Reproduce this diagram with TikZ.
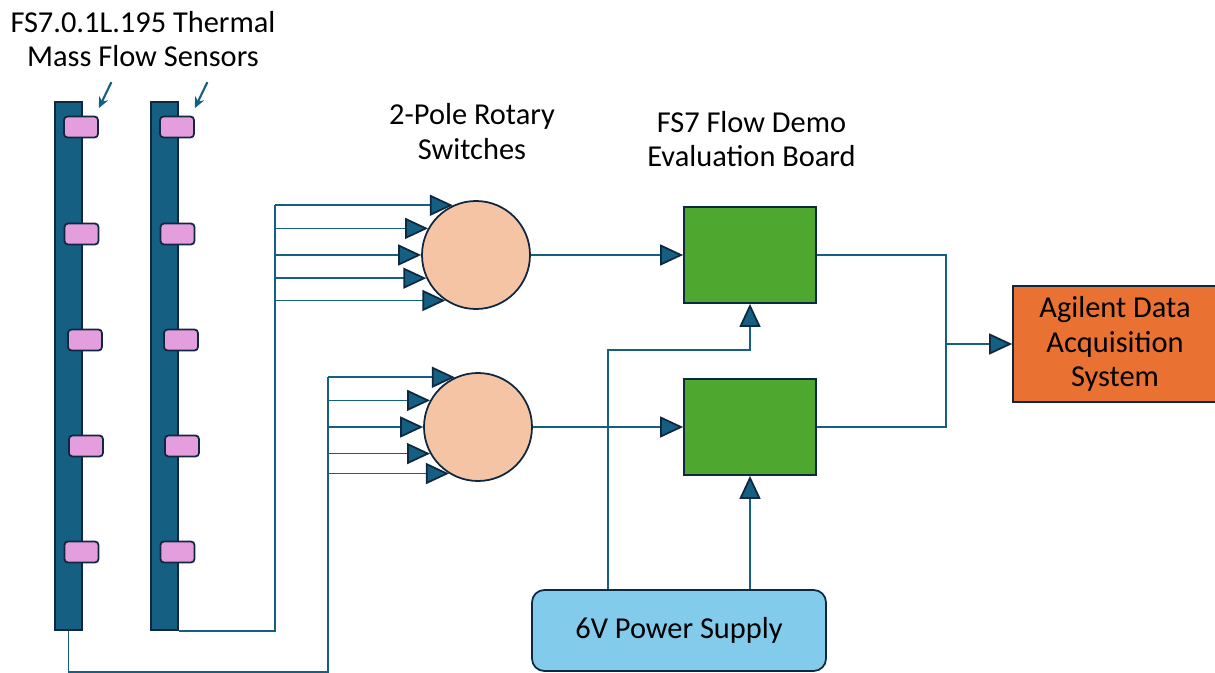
\documentclass[tikz,border=0pt]{standalone}
\usepackage{fontspec}
\setmainfont{Carlito}
\usepackage{tikz}
\usetikzlibrary{arrows.meta,calc}
\definecolor{flowInk}{HTML}{0E2841}
\definecolor{flowTeal}{HTML}{156082}
\definecolor{flowPink}{HTML}{E59EDD}
\definecolor{flowPeach}{HTML}{F4C4A5}
\definecolor{flowGreen}{HTML}{4EA72E}
\definecolor{flowOrange}{HTML}{E97132}
\definecolor{flowSky}{HTML}{83CBEB}

\begin{document}
\begin{tikzpicture}[
  font=\fontsize{17.3}{19.8}\selectfont,
  bar/.style={draw=flowInk, fill=flowTeal, line width=1pt, minimum width=5.4mm, minimum height=105.6mm, inner sep=0pt},
  pad/.style={draw=flowInk, fill=flowPink, line width=1pt, rounded corners=2pt, minimum width=6.8mm, minimum height=4.2mm, inner sep=0pt},
  switch/.style={circle, draw=flowInk, fill=flowPeach, line width=1pt, minimum size=21.6mm, inner sep=0pt},
  board/.style={draw=flowInk, fill=flowGreen, line width=1pt, minimum width=26.4mm, minimum height=19.2mm, inner sep=0pt},
  daq/.style={draw=flowInk, fill=flowOrange, line width=1pt, minimum width=40.8mm, minimum height=23.2mm, align=center, inner sep=0pt},
  supply/.style={draw=flowInk, fill=flowSky, line width=1pt, rounded corners=7pt, minimum width=58.8mm, minimum height=16.2mm, inner sep=0pt},
  wire/.style={draw=flowTeal, line width=1pt},
  sig/.style={wire, -{Triangle[length=4.6mm, width=4.2mm, color=flowInk, fill=flowTeal]}},
  pointer/.style={draw=flowTeal, line width=1.2pt, -{Stealth[length=2.2mm, width=2mm]}},
  label/.style={align=center, inner sep=0pt}
]
  \useasboundingbox (0,0) rectangle (24.3,13.44);

  % sensor bars
  \node[bar] (bar1) at (1.37,6.12) {};
  \node[bar] (bar2) at (3.29,6.12) {};
  \foreach \y/\dx [count=\i] in {10.90/0.25, 8.76/0.26, 6.64/0.33, 4.52/0.35, 2.40/0.26} {
    \node[pad] (pa\i) at (1.37+\dx,\y) {};
    \node[pad] (pb\i) at (3.29+\dx,\y) {};
  }
  \node[label] (title) at (2.86,12.66) {FS7.0.1L.195 Thermal\\Mass Flow Sensors};
  \draw[pointer] ($(pa1.north east)+(0.25,0.67)$) -- ($(pa1.north east)+(0,0.15)$);
  \draw[pointer] ($(pb1.north east)+(0.25,0.67)$) -- ($(pb1.north east)+(0,0.15)$);

  % switches, boards, outputs
  \node[switch] (sw1) at (9.52,8.34) {};
  \node[switch] (sw2) at (9.56,4.90) {};
  \node[label] (swlabel) at (9.44,10.81) {2-Pole Rotary\\Switches};
  \node[board] (box1) at (15.0,8.34) {};
  \node[board] (box2) at (15.0,4.90) {};
  \node[label] (boxlabel) at (15.03,10.66) {FS7 Flow Demo\\Evaluation Board};
  \node[daq] (daq) at (22.30,6.56) {Agilent Data\\Acquisition\\System};
  \node[supply] (ps) at (13.58,0.83) {6V Power Supply};

  \coordinate (bus1) at (5.50,0.84);
  \coordinate (bus2) at (6.56,0.0);
  \coordinate (join) at (18.92,6.56);
  \coordinate (tap) at (12.16,6.44);

  \draw[wire] (bar2.south east) -| (bus1 |- sw1.115);
  \foreach \a in {115,151,180,205,236} {
    \draw[sig] (bus1 |- sw1.\a) -- (sw1.\a);
  }
  \draw[wire] (bar1.south) |- (bus2) -- (bus2 |- sw2.115);
  \foreach \a in {115,151,180,209,238} {
    \draw[sig] (bus2 |- sw2.\a) -- (sw2.\a);
  }

  \draw[sig] (sw1.east) -- (box1.west);
  \draw[sig] (sw2.east) -- (box2.west);
  \draw[wire] (box1.east) -| (join) |- (box2.east);
  \draw[sig] (join) -- (daq.west);

  \draw[sig] (tap |- ps.north) -- (tap) -| (box1.south);
  \draw[sig] (box2.south |- ps.north) -- (box2.south);
\end{tikzpicture}
\end{document}
